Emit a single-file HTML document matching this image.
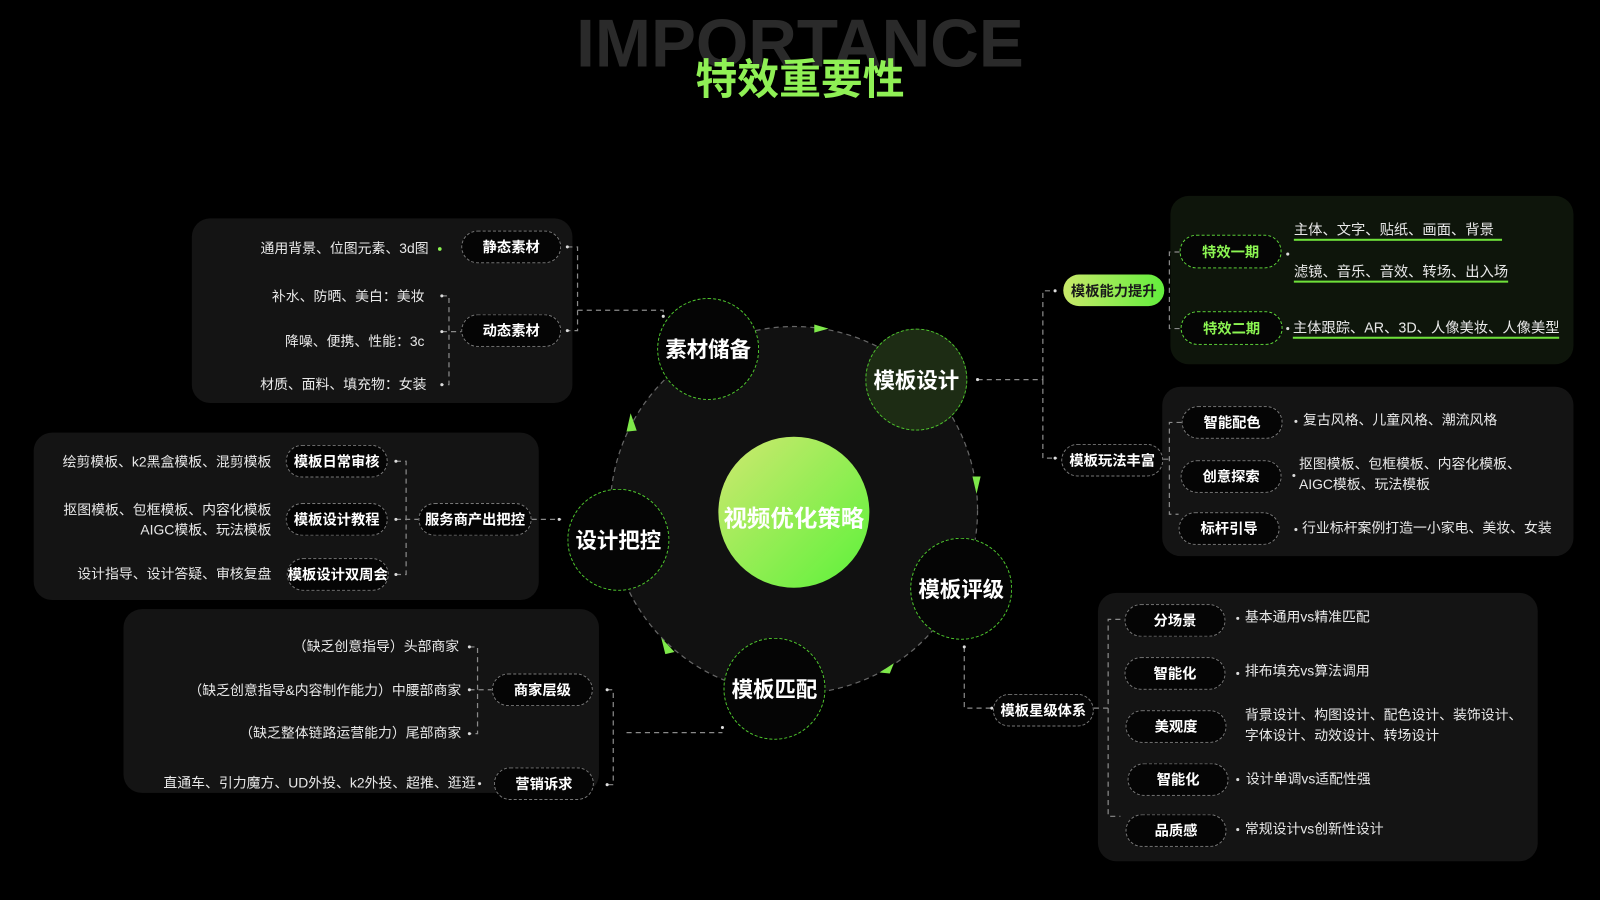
<!DOCTYPE html>
<html><head><meta charset="utf-8"><style>
html,body{margin:0;padding:0;background:#000;width:1600px;height:900px;overflow:hidden}
#w{position:absolute;left:0;top:0;width:1568px;height:882px;transform:scale(1.0204);transform-origin:0 0;font-family:"Liberation Sans","Noto Sans CJK SC",sans-serif;color:#fff}
.a{position:absolute}
.pn{position:absolute;background:#141414;border-radius:18px}
.pill{position:absolute;box-sizing:border-box;border:1.3px dashed #777;border-radius:20px;background:#050505;color:#fff;font-weight:bold;font-size:14px;display:flex;align-items:center;justify-content:center;white-space:nowrap}
.g{border-color:#5fd83a;color:#8cf552}
.t{position:absolute;font-size:13.6px;color:#e8e8e8;white-space:nowrap;line-height:20px}
.r{text-align:right}
.c{position:absolute;box-sizing:border-box;border-radius:50%;border:1.3px dashed #4fc82e;background:#050505;display:flex;align-items:center;justify-content:center;font-size:21px;font-weight:bold;color:#fff}
.u{border-bottom:2.5px solid #6ee03a;padding-bottom:1px}
</style></head><body><div id="w">
<div class="a" style="left:0;width:1568px;top:4px;text-align:center;font-size:66px;font-weight:bold;color:#2a2a2a;letter-spacing:0px">IMPORTANCE</div>
<div class="a" style="left:0;width:1568px;top:44px;text-align:center;font-size:41px;font-weight:bold;color:#8ff055">特效重要性</div>

<div class="pn" style="left:188px;top:214px;width:373px;height:181px"></div>
<div class="pn" style="left:33px;top:424px;width:495px;height:164px"></div>
<div class="pn" style="left:121px;top:597px;width:466px;height:180px"></div>
<div class="pn" style="left:1147px;top:192px;width:395px;height:165px;background:#0e150b"></div>
<div class="pn" style="left:1139px;top:379px;width:403px;height:166px"></div>
<div class="pn" style="left:1076px;top:581px;width:431px;height:263px"></div>

<svg class="a" style="left:0;top:0" width="1568" height="882">
<g fill="none" stroke="#8a8a8a" stroke-width="1.2" stroke-dasharray="5 4">
<circle cx="778" cy="500" r="180" fill="#111" stroke="#666"/>
<path d="M556 242 H566 V324 H556 M566 304 H650 V310"/>
<path d="M433 290 H440 V377 H433 M433 325 H452"/>
<path d="M388 452 H398 V563 H388 M388 509 H410 M521 509 H550"/>
<path d="M460 634 H468 V719 H460 M460 676 H482 M595 676 H601 V769 H595 M614 718 H708"/>
<path d="M958 372 H1022 V285 H1035 M1022 372 V449 H1036"/>
<path d="M1156 247 H1146 V322 H1156"/>
<path d="M1158 414 H1146 V504 H1155 M1140 450 H1146"/>
<path d="M945 634 V694 H972 M1072 694 H1086 V607 H1098 M1086 694 V800 H1098"/>
</g>
<g fill="#ddd"><circle cx="556" cy="242" r="1.5"/><circle cx="556" cy="324" r="1.5"/><circle cx="650" cy="310" r="1.5"/><circle cx="433" cy="290" r="1.5"/><circle cx="433" cy="325" r="1.5"/><circle cx="433" cy="377" r="1.5"/><circle cx="388" cy="452" r="1.5"/><circle cx="388" cy="509" r="1.5"/><circle cx="388" cy="563" r="1.5"/><circle cx="548" cy="509" r="1.5"/><circle cx="460" cy="634" r="1.5"/><circle cx="460" cy="676" r="1.5"/><circle cx="460" cy="719" r="1.5"/><circle cx="595" cy="676" r="1.5"/><circle cx="595" cy="769" r="1.5"/><circle cx="708" cy="713" r="1.5"/><circle cx="958" cy="372" r="1.5"/><circle cx="1034" cy="285" r="1.5"/><circle cx="1034" cy="449" r="1.5"/><circle cx="945" cy="634" r="1.5"/><circle cx="972" cy="694" r="1.5"/><circle cx="1262" cy="249" r="1.5"/><circle cx="1262" cy="322" r="1.5"/><circle cx="1270" cy="413" r="1.5"/><circle cx="1268" cy="466" r="1.5"/><circle cx="1270" cy="519" r="1.5"/><circle cx="1213" cy="606" r="1.5"/><circle cx="1213" cy="660" r="1.5"/><circle cx="1213" cy="764" r="1.5"/><circle cx="1213" cy="813" r="1.5"/><circle cx="470" cy="768" r="1.5"/><circle cx="431" cy="244" r="1.8" fill="#8cf552"/></g>
<g fill="#7ee84a"><path d="M798 318 L812 322 L798 326Z"/><path d="M953 467 L957 484 L961 467Z"/><path d="M614 423 L618 405 L624 422Z"/><path d="M648 625 L661 639 L652 641Z"/><path d="M862 659 L876 650 L872 660Z"/></g>
<defs><linearGradient id="gg" x1="0" y1="0" x2="1" y2="1"><stop offset="0" stop-color="#cfe870"/><stop offset="1" stop-color="#5cf23a"/></linearGradient>
<linearGradient id="pg" x1="0" y1="0" x2="1" y2="0"><stop offset="0" stop-color="#c8e86a"/><stop offset="1" stop-color="#62ee3c"/></linearGradient></defs>
<circle cx="778" cy="502" r="74" fill="url(#gg)"/>
<rect x="1042" y="269" width="99" height="31" rx="15.5" fill="url(#pg)"/>
</svg>
<div class="a" style="left:704px;top:489px;width:148px;text-align:center;font-size:23px;font-weight:bold;color:#fff">视频优化策略</div>

<div class="c" style="left:644px;top:292px;width:100px;height:100px">素材储备</div>
<div class="c" style="left:848px;top:322px;width:100px;height:100px;background:#1d2c14">模板设计</div>
<div class="c" style="left:556px;top:479px;width:100px;height:100px">设计把控</div>
<div class="c" style="left:892px;top:527px;width:100px;height:100px">模板评级</div>
<div class="c" style="left:709px;top:625px;width:100px;height:100px">模板匹配</div>

<div class="pill" style="left:452px;top:226px;width:98px;height:32px">静态素材</div>
<div class="pill" style="left:452px;top:308px;width:98px;height:32px">动态素材</div>
<div class="t r" style="left:200px;width:220px;top:234px">通用背景、位图元素、3d图</div>
<div class="t r" style="left:200px;width:216px;top:281px">补水、防晒、美白：美妆</div>
<div class="t r" style="left:200px;width:216px;top:325px">降噪、便携、性能：3c</div>
<div class="t r" style="left:200px;width:218px;top:367px">材质、面料、填充物：女装</div>

<div class="pill" style="left:280px;top:436px;width:100px;height:32px">模板日常审核</div>
<div class="pill" style="left:280px;top:493px;width:100px;height:32px">模板设计教程</div>
<div class="pill" style="left:281px;top:547px;width:100px;height:32px">模板设计双周会</div>
<div class="pill" style="left:410px;top:493px;width:111px;height:32px">服务商产出把控</div>
<div class="t r" style="left:40px;width:226px;top:443px">绘剪模板、k2黑盒模板、混剪模板</div>
<div class="t r" style="left:40px;width:226px;top:490px">抠图模板、包框模板、内容化模板<br>AIGC模板、玩法模板</div>
<div class="t r" style="left:40px;width:226px;top:553px">设计指导、设计答疑、审核复盘</div>

<div class="pill" style="left:482px;top:660px;width:99px;height:32px">商家层级</div>
<div class="pill" style="left:484px;top:752px;width:98px;height:32px">营销诉求</div>
<div class="t r" style="left:130px;width:320px;top:624px">（缺乏创意指导）头部商家</div>
<div class="t r" style="left:130px;width:322px;top:667px">（缺乏创意指导&amp;内容制作能力）中腰部商家</div>
<div class="t r" style="left:130px;width:322px;top:709px">（缺乏整体链路运营能力）尾部商家</div>
<div class="t r" style="left:120px;width:346px;top:758px">直通车、引力魔方、UD外投、k2外投、超推、逛逛</div>

<div class="a" style="left:1042px;top:269px;width:99px;height:31px;display:flex;align-items:center;justify-content:center;font-size:14px;font-weight:bold;color:#1a1a1a">模板能力提升</div>
<div class="pill" style="left:1040px;top:435px;width:100px;height:32px">模板玩法丰富</div>
<div class="pill g" style="left:1156px;top:230px;width:100px;height:33px">特效一期</div>
<div class="pill g" style="left:1157px;top:305px;width:100px;height:33px">特效二期</div>
<div class="t" style="left:1268px;top:215px;font-size:14px"><span class="u">主体、文字、贴纸、画面、背景&nbsp;&nbsp;</span></div>
<div class="t" style="left:1268px;top:256px;font-size:14px"><span class="u">滤镜、音乐、音效、转场、出入场</span></div>
<div class="t" style="left:1267px;top:311px;font-size:14px"><span class="u">主体跟踪、AR、3D、人像美妆、人像美型</span></div>

<div class="pill" style="left:1158px;top:398px;width:99px;height:32px">智能配色</div>
<div class="pill" style="left:1157px;top:451px;width:99px;height:32px">创意探索</div>
<div class="pill" style="left:1155px;top:502px;width:99px;height:32px">标杆引导</div>
<div class="t" style="left:1277px;top:402px">复古风格、儿童风格、潮流风格</div>
<div class="t" style="left:1273px;top:445px">抠图模板、包框模板、内容化模板、<br>AIGC模板、玩法模板</div>
<div class="t" style="left:1276px;top:508px">行业标杆案例打造一小家电、美妆、女装</div>

<div class="pill" style="left:973px;top:680px;width:99px;height:32px">模板星级体系</div>
<div class="pill" style="left:1102px;top:592px;width:99px;height:32px">分场景</div>
<div class="pill" style="left:1102px;top:644px;width:99px;height:32px">智能化</div>
<div class="pill" style="left:1103px;top:696px;width:99px;height:32px">美观度</div>
<div class="pill" style="left:1105px;top:748px;width:99px;height:32px">智能化</div>
<div class="pill" style="left:1103px;top:798px;width:99px;height:32px">品质感</div>
<div class="t" style="left:1220px;top:595px">基本通用vs精准匹配</div>
<div class="t" style="left:1220px;top:648px">排布填充vs算法调用</div>
<div class="t" style="left:1220px;top:691px">背景设计、构图设计、配色设计、装饰设计、<br>字体设计、动效设计、转场设计</div>
<div class="t" style="left:1221px;top:754px">设计单调vs适配性强</div>
<div class="t" style="left:1220px;top:803px">常规设计vs创新性设计</div>
</div></body></html>
